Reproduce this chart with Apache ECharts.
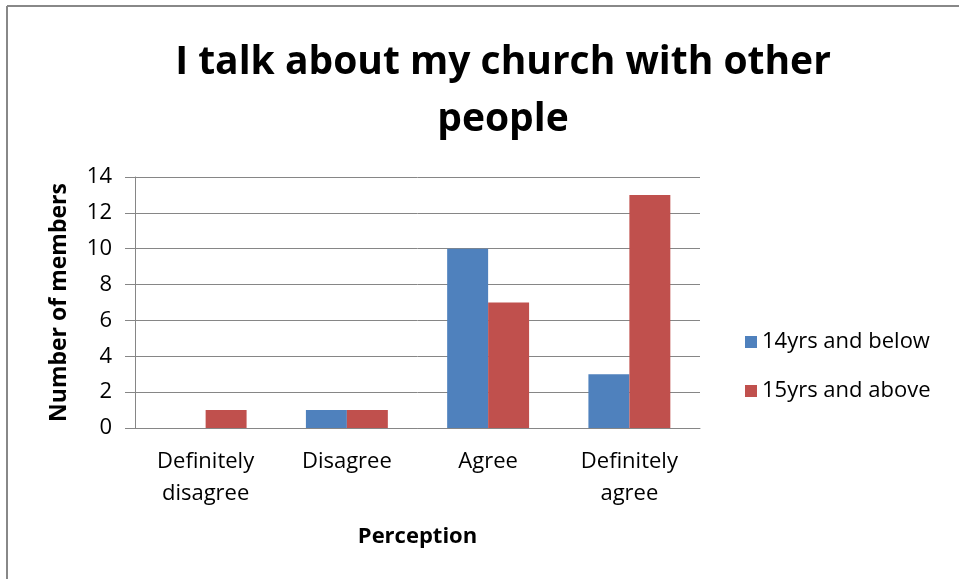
<!DOCTYPE html>
<html>
<head>
<meta charset="utf-8">
<script src="https://cdn.jsdelivr.net/npm/echarts@6/dist/echarts.min.js"></script>
<style>html,body{margin:0;padding:0;background:#fff;}#c{width:959px;height:579px;}</style>
</head>
<body>
<div id="c"></div>
<script>
const categories = ['Definitely\ndisagree', 'Disagree', 'Agree', 'Definitely\nagree'];
const seriesNames = ['14yrs and below', '15yrs and above'];
const below14 = [0, 1, 10, 3];
const above15 = [1, 1, 7, 13];
const yTicks = [0, 2, 4, 6, 8, 10, 12, 14];

const FONT = 'Open Sans';
const chart = echarts.init(document.getElementById('c'), null, {renderer: 'canvas'});
chart.setOption({
  backgroundColor: '#fff',
  animation: false,
  title: {
    text: 'I talk about my church with other\npeople',
    left: 498, top: 29, textAlign: 'center',
    textStyle: {fontFamily: FONT, fontWeight: 'bold', fontSize: 39, lineHeight: 57, color: '#000'}
  },
  graphic: [
    {type: 'line', shape: {x1: 7, y1: 6, x2: 959, y2: 6}, style: {stroke: '#888', lineWidth: 2}},
    {type: 'line', shape: {x1: 7, y1: 6, x2: 7, y2: 579}, style: {stroke: '#888', lineWidth: 2}}
  ],
  legend: {
    orient: 'vertical', left: 740, top: 326, itemGap: 27,
    itemWidth: 12, itemHeight: 12, icon: 'rect',
    textStyle: {fontFamily: FONT, fontSize: 22, color: '#000'},
    data: seriesNames
  },
  grid: {left: 135, right: 259, top: 177, bottom: 151},
  xAxis: {
    type: 'category', data: categories,
    name: 'Perception', nameLocation: 'middle', nameGap: 98,
    nameTextStyle: {fontFamily: FONT, fontWeight: 'bold', fontSize: 22, color: '#000'},
    axisLine: {lineStyle: {color: '#868686'}},
    axisTick: {show: false},
    axisLabel: {fontFamily: FONT, fontSize: 22, color: '#000', lineHeight: 32, margin: 18, interval: 0}
  },
  yAxis: {
    type: 'value', min: 0, max: 14, interval: 2,
    name: 'Number of members', nameLocation: 'middle', nameGap: 64,
    nameTextStyle: {fontFamily: FONT, fontWeight: 'bold', fontSize: 23, color: '#000'},
    axisLine: {show: true, lineStyle: {color: '#868686'}},
    axisTick: {show: true, length: 10, lineStyle: {color: '#868686'}},
    splitLine: {lineStyle: {color: '#868686'}},
    axisLabel: {fontFamily: FONT, fontSize: 22, color: '#000', margin: 23,
      formatter: v => yTicks.includes(v) ? String(v) : ''}
  },
  series: [
    {name: seriesNames[0], type: 'bar', data: below14, barGap: '0%', barCategoryGap: '42%', itemStyle: {color: '#4F81BD'}},
    {name: seriesNames[1], type: 'bar', data: above15, barGap: '0%', barCategoryGap: '42%', itemStyle: {color: '#C0504D'}}
  ]
});
</script>
</body>
</html>
